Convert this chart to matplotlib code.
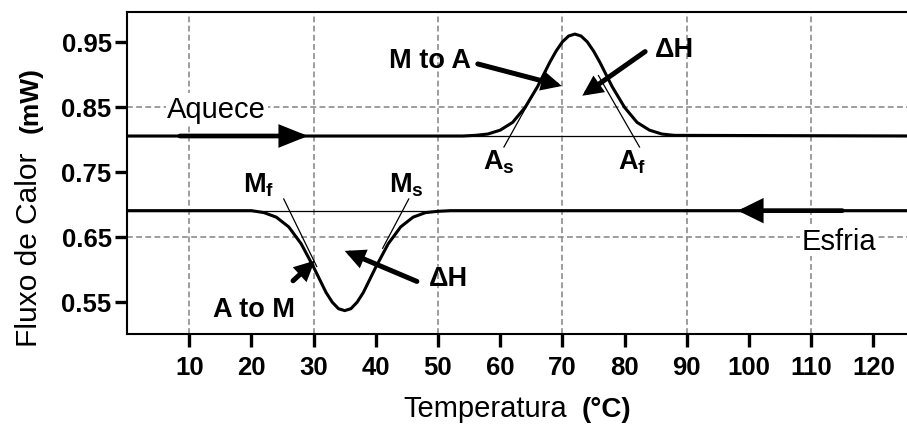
"""
plot.py
DSC schematic: heat flow vs temperature for heating (M -> A) and
cooling (A -> M), with transformation temperatures and ΔH arrows.
"""

import matplotlib
matplotlib.use("Agg")
import matplotlib.pyplot as plt

# ── Data ─────────────────────────────────────────────────────────────────────

# heating curve (Aquece)
HEAT_T = [0, 54, 56, 58, 60, 62, 64, 66, 68, 69, 70, 71, 72, 73, 74, 75,
          76, 78, 80, 82, 84, 86, 88, 128]
HEAT_FLUX = [0.805, 0.805, 0.806, 0.808, 0.814, 0.826, 0.849, 0.881, 0.919,
             0.936, 0.950, 0.959, 0.962, 0.959, 0.950, 0.936, 0.919, 0.881,
             0.849, 0.826, 0.814, 0.808, 0.806, 0.805]
HEAT_BASE = 0.805

# cooling curve (Esfria)
COOL_T = [0, 20, 22, 24, 26, 28, 30, 32, 33, 34, 35, 36, 37, 38, 40, 42,
          44, 46, 48, 50, 52, 128]
COOL_FLUX = [0.690, 0.690, 0.687, 0.680, 0.665, 0.639, 0.603, 0.564, 0.549,
             0.539, 0.536, 0.539, 0.549, 0.564, 0.603, 0.639, 0.665, 0.680,
             0.687, 0.689, 0.690, 0.690]
COOL_BASE = 0.690

# tangent construction lines  (T pair, flux pair)
TANGENT_AS = ([60.6, 67.4], [0.788, 0.905])
TANGENT_AF = ([82.4, 75.8], [0.788, 0.898])
TANGENT_MF = ([25.2, 30.5], [0.708, 0.604])
TANGENT_MS = ([45.3, 41.1], [0.708, 0.632])

# arrows: (tail, head)
ARROW_HEAT = ((8.5, 0.805), (29.1, 0.805))
ARROW_COOL = ((115.0, 0.690), (98.2, 0.690))
ARROW_M_TO_A = ((56.4, 0.916), (69.9, 0.882))
ARROW_DH_TOP = ((83.3, 0.935), (73.2, 0.867))
ARROW_A_TO_M = ((26.7, 0.582), (30.2, 0.613))
ARROW_DH_BOT = ((46.6, 0.581), (35.0, 0.628))

X_TICKS = [10, 20, 30, 40, 50, 60, 70, 80, 90, 100, 110, 120]
Y_TICKS = [0.55, 0.65, 0.75, 0.85, 0.95]
GRID_X = [10, 30, 50, 70, 90, 110]
GRID_Y = [0.65, 0.85]

# ── Style ─────────────────────────────────────────────────────────────────────

plt.rcParams["font.family"] = ["Liberation Sans", "DejaVu Sans"]
plt.rcParams["mathtext.fontset"] = "custom"
plt.rcParams["mathtext.rm"] = "Liberation Sans"
plt.rcParams["mathtext.bf"] = "Liberation Sans:bold"

GRID_KW = dict(color="#8c8c8c", lw=1.2, dashes=(3.5, 2), zorder=1)
LABEL_KW = dict(fontsize=19.5, fontweight="bold", ha="left", va="baseline", zorder=6)

fig = plt.figure(figsize=(9.07, 4.27), dpi=100)
fig.patch.set_facecolor("white")
ax = fig.add_axes([127 / 907, 92 / 427, 128 * 6.22 / 907, 322 / 427])
ax.set_xlim(0, 128)
ax.set_ylim(0.5, 0.996)

for gx in GRID_X:
    ax.axvline(gx, **GRID_KW)
for gy in GRID_Y:
    ax.axhline(gy, **GRID_KW)

# curves + extrapolated baselines
ax.plot(HEAT_T, HEAT_FLUX, color="black", lw=2.2, solid_capstyle="butt", zorder=3)
ax.plot(COOL_T, COOL_FLUX, color="black", lw=2.2, solid_capstyle="butt", zorder=3)
ax.axhline(HEAT_BASE, color="black", lw=0.9, zorder=3)
ax.axhline(COOL_BASE, color="black", lw=0.9, zorder=3)

for tx, ty in (TANGENT_AS, TANGENT_AF, TANGENT_MF, TANGENT_MS):
    ax.plot(tx, ty, color="black", lw=0.9, zorder=3)


def arrow(tail_head, lw, hl, hw):
    tail, head = tail_head
    ax.annotate(
        "", xy=head, xytext=tail, annotation_clip=False, zorder=4,
        arrowprops=dict(arrowstyle=f"-|>,head_length={hl},head_width={hw}",
                        lw=lw, color="black", shrinkA=0, shrinkB=0,
                        mutation_scale=20, joinstyle="miter"),
    )


arrow(ARROW_HEAT, 3.4, 0.75, 0.3)
arrow(ARROW_COOL, 3.4, 0.65, 0.32)
arrow(ARROW_M_TO_A, 3.6, 0.45, 0.22)
arrow(ARROW_DH_TOP, 3.6, 0.45, 0.22)
arrow(ARROW_A_TO_M, 3.6, 0.45, 0.22)
arrow(ARROW_DH_BOT, 3.6, 0.45, 0.22)

# annotations
box = dict(facecolor="white", edgecolor="none", pad=1.0)
ax.text(6.5, 0.835, "Aquece", fontsize=21, ha="left", va="baseline", bbox=box, zorder=5)
ax.text(108.5, 0.6315, "Esfria", fontsize=21, ha="left", va="baseline", bbox=box, zorder=5)
ax.text(42.1, 0.9115, "M to A", **LABEL_KW)
ax.text(84.8, 0.928, "ΔH", **LABEL_KW)
ax.text(13.9, 0.527, "A to M", **LABEL_KW)
ax.text(48.5, 0.576, "ΔH", **LABEL_KW)
ax.text(57.3, 0.7546, r"$\mathbf{A}_{\mathbf{s}}$", **LABEL_KW)
ax.text(79.0, 0.7546, r"$\mathbf{A}_{\mathbf{f}}$", **LABEL_KW)
ax.text(18.7, 0.719, r"$\mathbf{M}_{\mathbf{f}}$", **LABEL_KW)
ax.text(42.1, 0.719, r"$\mathbf{M}_{\mathbf{s}}$", **LABEL_KW)

# axes formatting
ax.set_xticks(X_TICKS)
ax.set_yticks(Y_TICKS)
ax.set_xticklabels([str(t) for t in X_TICKS])
ax.set_yticklabels([f"{t:.2f}" for t in Y_TICKS])
ax.tick_params(axis="both", direction="out", length=9, width=2.4,
               labelsize=18.5, color="black")
ax.tick_params(axis="y", pad=2)
ax.tick_params(axis="x", pad=6)
for lab in ax.get_xticklabels() + ax.get_yticklabels():
    lab.set_fontweight("bold")

for side in ("left", "bottom", "top"):
    ax.spines[side].set_linewidth(1.5)
ax.spines["right"].set_visible(False)

# axis titles, regular words + bold units
fig.text(403 / 907, 10 / 427, "Temperatura", fontsize=21, ha="left", va="baseline")
fig.text(582 / 907, 10 / 427, "(°C)", fontsize=20, fontweight="bold", ha="left", va="baseline")
fig.text(37 / 907, 80 / 427, "Fluxo de Calor", fontsize=21.5, rotation=90,
         rotation_mode="anchor", ha="left", va="baseline")
fig.text(38 / 907, 294 / 427, "(mW)", fontsize=19, fontweight="bold", rotation=90,
         rotation_mode="anchor", ha="left", va="baseline")

fig.savefig("out.png", dpi=100, facecolor="white")
